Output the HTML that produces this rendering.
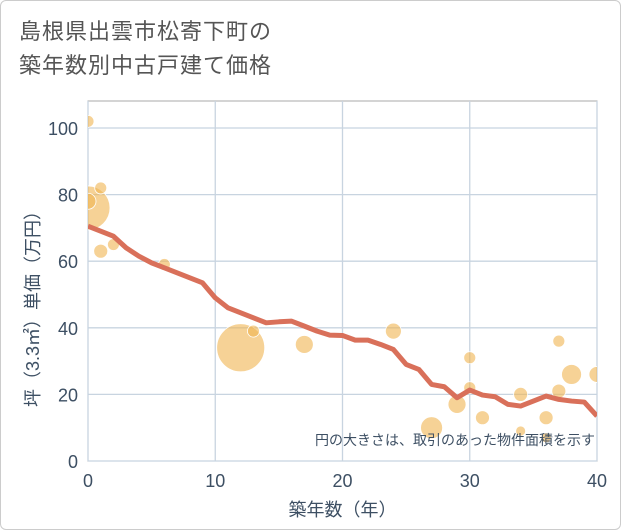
<!DOCTYPE html>
<html><head><meta charset="utf-8"><style>
body{margin:0;background:#fff;font-family:"Liberation Sans","Noto Sans CJK JP",sans-serif;}
#wrap{position:relative;width:621px;height:530px;box-sizing:border-box;border:1px solid #ccc;border-radius:6px;overflow:hidden}
#title{position:absolute;left:18px;top:14px;font-size:22px;line-height:34px;color:#555;letter-spacing:1px}
</style></head><body>
<div id="wrap">
<div id="title">島根県出雲市松寄下町の<br>築年数別中古戸建て価格</div>
<svg id="svg" width="621" height="530" style="position:absolute;left:0;top:0"></svg>
</div>
<script>
const xTicks=[0,10,20,30,40];
const yTicks=[0,20,40,60,80,100];
const lineYears=[0,1,2,3,4,5,6,7,8,9,10,11,12,13,14,15,16,17,18,19,20,21,22,23,24,25,26,27,28,29,30,31,32,33,34,35,36,37,38,39,40];
const lineValues=[70.5,69,67.5,64,61.5,59.5,58,56.5,55,53.5,49,46,44.5,43,41.5,41.8,42,40.5,39,37.8,37.7,36.3,36.3,35,33.5,29,27.5,23,22.3,19,21.3,19.8,19.3,17,16.5,18,19.5,18.5,18,17.7,13.5];
const bubbleYears=[0,0,0,1,1,2,6,12,13,17,24,27,29,30,30,31,34,34,36,36,37,37,38,40];
const bubbleValues=[102,76,78,82,63,65,59,34,39,35,39,10,17,31,22,13,20,9,13,7,36,21,26,26];
const bubbleSizes=[6,22,8,6,7,6,6,24,6,9,8,11,9,6,6,7,7,5,7,5,6,7,10,8];
const NS='http://www.w3.org/2000/svg';
const svg=document.getElementById('svg');
const X0=87,X1=596,Y0=460,Y1=127;
const TXT='#3d4f63';
const xs=v=>X0+(X1-X0)*v/40;
const ys=v=>Y0-(Y0-Y1)*v/100;
function mk(t,a){const e=document.createElementNS(NS,t);for(const k in a)e.setAttribute(k,a[k]);svg.appendChild(e);return e;}
const clip=mk('clipPath',{id:'c'});
const cr=document.createElementNS(NS,'rect');cr.setAttribute('x',X0);cr.setAttribute('y',100);cr.setAttribute('width',X1-X0);cr.setAttribute('height',Y0-100);clip.appendChild(cr);
const bg=mk('rect',{x:X0,y:100,width:X1-X0,height:Y0-100,fill:'#fff',stroke:'#aaa'});


yTicks.forEach(v=>{const l=mk('line',{x1:X0,x2:X1,y1:ys(v),y2:ys(v),stroke:'#c8d4e0','stroke-width':1.3});


const t=mk('text',{x:X0-10,y:ys(v)+7,'text-anchor':'end','font-size':18,fill:TXT});t.textContent=v;

});
xTicks.forEach(v=>{const l=mk('line',{x1:xs(v),x2:xs(v),y1:100,y2:Y0,stroke:'#c8d4e0','stroke-width':1.3});


const t=mk('text',{x:xs(v),y:Y0+26,'text-anchor':'middle','font-size':18,fill:TXT});t.textContent=v;

});
const g=mk('g',{'clip-path':'url(#c)'});
bubbleYears.forEach((yr,i)=>{const c=document.createElementNS(NS,'circle');c.setAttribute('cx',xs(yr));c.setAttribute('cy',ys(bubbleValues[i]));c.setAttribute('r',bubbleSizes[i]);c.setAttribute('fill','rgba(240,180,80,0.6)');c.setAttribute('stroke','#fff');c.setAttribute('stroke-width',0.8);


g.appendChild(c);});
const p=document.createElementNS(NS,'polyline');p.setAttribute('points',lineYears.map((yr,i)=>xs(yr)+','+ys(lineValues[i])).join(' '));p.setAttribute('fill','none');p.setAttribute('stroke','#d9705a');p.setAttribute('stroke-width',5);p.setAttribute('stroke-linejoin','round');


g.appendChild(p);
const n=mk('text',{x:594,y:444,'text-anchor':'end','font-size':14,fill:TXT});n.textContent='円の大きさは、取引のあった物件面積を示す';


const xt=mk('text',{x:(X0+X1)/2,y:515,'text-anchor':'middle','font-size':18,fill:TXT});xt.textContent='築年数（年）';


const yt=mk('text',{x:0,y:0,'text-anchor':'middle','font-size':18,fill:TXT,transform:'translate(38,'+((Y0+Y1)/2+10)+') rotate(-90)'});yt.textContent='坪（3.3㎡）単価（万円）';


</script>
</body></html>
